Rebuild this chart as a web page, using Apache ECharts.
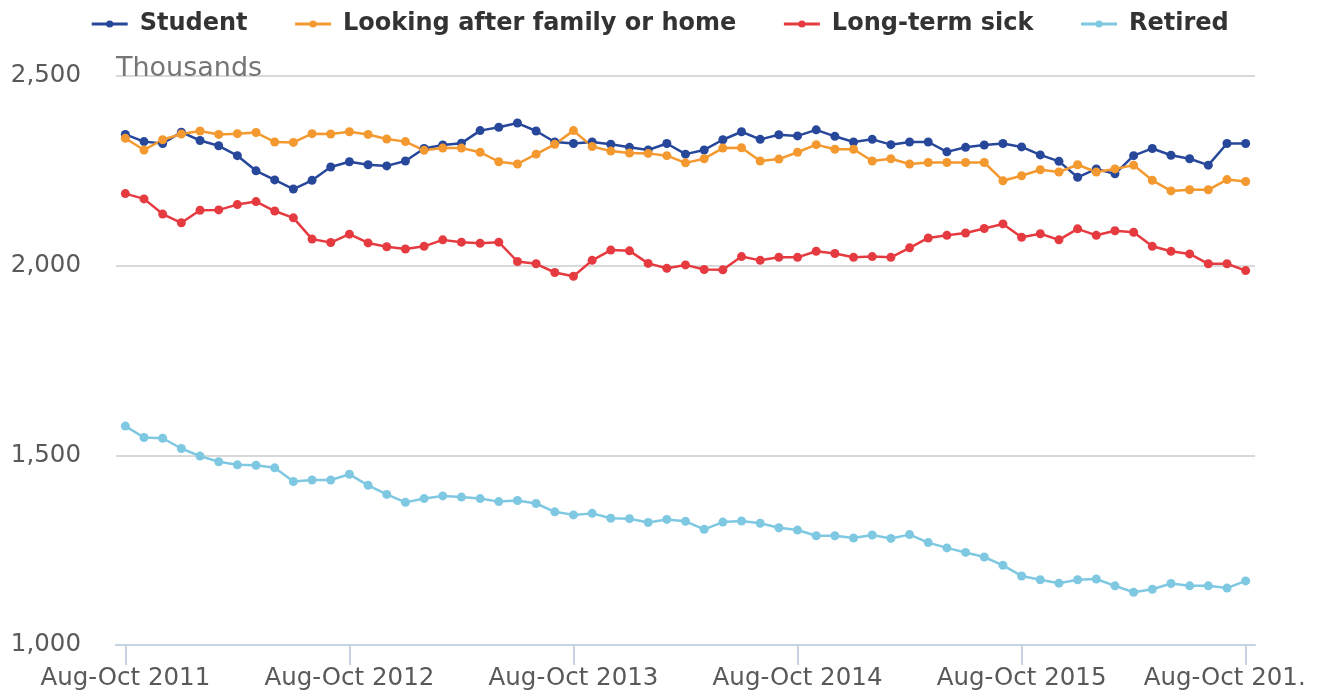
<!DOCTYPE html>
<html>
<head>
<meta charset="utf-8">
<script src="https://cdn.jsdelivr.net/npm/echarts@6/dist/echarts.min.js"></script>
<style>
  html, body { margin: 0; padding: 0; background: #fff; }
  #chart { width: 1319px; height: 691px; }
</style>
</head>
<body>
<div id="chart"></div>
<script>
// rolling three-month periods, Aug-Oct 2011 .. Aug-Oct 2016
const monthNames = ['Jan','Feb','Mar','Apr','May','Jun','Jul','Aug','Sep','Oct','Nov','Dec'];
const periods = [];
for (let i = 0; i < 61; i++) {
  const start = (7 + i) % 12;
  const end = (start + 2) % 12;
  const year = 2011 + Math.floor((9 + i) / 12);
  periods.push(monthNames[start] + '-' + monthNames[end] + ' ' + year);
}

const student = [
  2346, 2327, 2322, 2352, 2330, 2316, 2290, 2250, 2226, 2202,
  2225, 2260, 2274, 2266, 2263, 2276, 2309, 2318, 2323, 2356,
  2365, 2376, 2355, 2326, 2322, 2326, 2320, 2312, 2305, 2322,
  2294, 2305, 2332, 2353, 2333, 2345, 2342, 2358, 2341, 2326,
  2333, 2319, 2326, 2326, 2300, 2312, 2318, 2322, 2313, 2292,
  2275, 2233, 2255, 2242, 2290, 2309, 2291, 2282, 2265, 2322,
  2322
];
const family = [
  2336, 2305, 2332, 2347, 2355, 2346, 2348, 2351, 2326, 2325,
  2348, 2347, 2353, 2346, 2334, 2327, 2304, 2310, 2310, 2299,
  2274, 2268, 2294, 2320, 2356, 2314, 2302, 2297, 2296, 2290,
  2271, 2282, 2310, 2311, 2276, 2281, 2299, 2319, 2307, 2307,
  2276, 2282, 2268, 2272, 2272, 2272, 2272, 2224, 2237, 2253,
  2247, 2266, 2247, 2255, 2265, 2225, 2197, 2200, 2200, 2227,
  2222
];
const sick = [
  2190, 2176, 2136, 2113, 2146, 2147, 2161, 2169, 2144, 2126,
  2070, 2061, 2083, 2060, 2050, 2044, 2051, 2068, 2062, 2059,
  2062, 2011, 2005, 1982, 1972, 2014, 2041, 2039, 2006, 1993,
  2002, 1990, 1989, 2024, 2014, 2022, 2022, 2038, 2032, 2022,
  2024, 2022, 2047, 2073, 2080, 2086, 2098, 2110, 2075, 2084,
  2068, 2097, 2080, 2092, 2088, 2051, 2038, 2031, 2005, 2005,
  1987
];
const retired = [
  1577, 1547, 1545, 1518, 1498, 1483, 1475, 1474, 1467, 1431,
  1435, 1435, 1450, 1421, 1397, 1376, 1386, 1393, 1390, 1386,
  1378, 1381, 1373, 1351, 1343, 1347, 1334, 1333, 1323, 1331,
  1326, 1305, 1324, 1327, 1321, 1309, 1303, 1288, 1288, 1282,
  1290, 1281, 1291, 1270, 1256, 1244, 1232, 1210, 1182, 1172,
  1163, 1172, 1174, 1156, 1139, 1147, 1162, 1156, 1156, 1150,
  1169
];

const seriesNames = ['Student', 'Looking after family or home', 'Long-term sick', 'Retired'];
const colors = ['#27479a', '#f4992f', '#e53b40', '#7ec8e2'];
const yTicks = [1000, 1500, 2000, 2500];

const font = 'DejaVu Sans';
const chart = echarts.init(document.getElementById('chart'));

const mkSeries = (name, data, color) => ({
  name: name,
  type: 'line',
  data: data,
  symbol: 'circle',
  symbolSize: 9,
  showAllSymbol: true,
  lineStyle: { width: 2.5, color: color },
  itemStyle: { color: color },
  emphasis: { disabled: true }
});

const option = {
  animation: false,
  color: colors,
  legend: {
    top: 7,
    left: 'center',
    itemWidth: 36,
    itemHeight: 9,
    itemGap: 46,
    lineStyle: { width: 3 },
    textStyle: {
      fontFamily: font, fontSize: 24, fontWeight: 'bold', color: '#333333',
      padding: [0, 0, 0, 7]
    },
    data: seriesNames
  },
  grid: { left: 116, right: 64, top: 76, bottom: 45 },
  xAxis: {
    type: 'category',
    data: periods,
    boundaryGap: true,
    axisLine: { lineStyle: { color: '#c6d3e2', width: 2 } },
    axisTick: {
      show: true, alignWithLabel: true, interval: 11, length: 20,
      lineStyle: { color: '#c6d3e2', width: 2 }
    },
    axisLabel: {
      interval: 11,
      margin: 21,
      hideOverlap: false,
      fontFamily: font,
      fontSize: 24.5,
      color: '#595959',
      formatter: function (v) {
        return v === periods[periods.length - 1] ? '{last|' + v.slice(0, -1) + '.}' : v;
      },
      rich: {
        last: { fontFamily: font, fontSize: 24.5, color: '#595959', padding: [0, 42, 0, 0] }
      }
    }
  },
  yAxis: {
    type: 'value',
    min: yTicks[0],
    max: yTicks[yTicks.length - 1],
    interval: 500,
    name: 'Thousands',
    nameLocation: 'end',
    nameGap: 0,
    nameTextStyle: {
      fontFamily: font, fontSize: 27, color: '#757575',
      align: 'left', verticalAlign: 'bottom', padding: [0, 0, -6, 0]
    },
    axisLine: { show: false },
    axisTick: { show: false },
    axisLabel: {
      margin: 35,
      fontFamily: font,
      fontSize: 24.5,
      color: '#595959',
      formatter: v => v.toLocaleString('en-US')
    },
    splitLine: { lineStyle: { color: '#d9d9d9', width: 2 } }
  },
  series: [
    mkSeries(seriesNames[0], student, colors[0]),
    mkSeries(seriesNames[1], family, colors[1]),
    mkSeries(seriesNames[2], sick, colors[2]),
    mkSeries(seriesNames[3], retired, colors[3])
  ]
};

chart.setOption(option);
</script>
</body>
</html>
